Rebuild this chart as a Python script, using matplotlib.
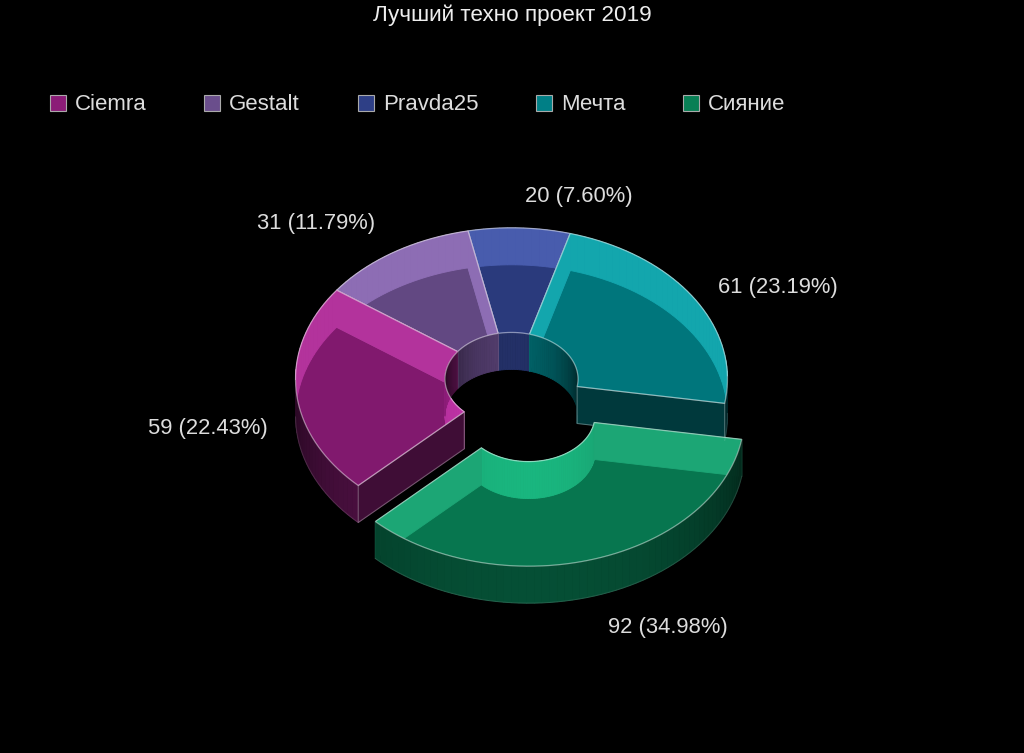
import numpy as np
import matplotlib
matplotlib.use('Agg')
import matplotlib.pyplot as plt
from matplotlib.patches import Polygon, Patch

plt.rcParams['font.family'] = ['Liberation Sans', 'DejaVu Sans']

# ---------------- data ----------------
title = "Лучший техно проект 2019"
categories = ["Ciemra", "Gestalt", "Pravda25", "Мечта", "Сияние"]
values = [59, 31, 20, 61, 92]
colors = ["#8B1C77", "#6A4E8C", "#2E3F86", "#007F86", "#087F55"]
exploded = [False, False, False, False, True]

# ---------------- layout ----------------
W, H = 1024, 753
CX, CY = 511.5, 379.0
RX = 216.0
TILT = 0.70
INNER = 0.308
DEPTH = 37.0
EXPLODE = 56.0
EXPLODE_TILT = 0.675
START = 224.8          # degrees, slices run clockwise from here
label_pos = [(208, 428), (316, 223), (579, 196), (778, 287), (668, 627)]
LABEL_COLOR = "#dddddd"

fig = plt.figure(figsize=(W / 100, H / 100), dpi=100)
fig.patch.set_facecolor("black")
ax = fig.add_axes([0, 0, 1, 1])
ax.set_facecolor("black")
ax.set_xlim(0, W)
ax.set_ylim(H, 0)
ax.axis("off")


def rgb(c):
    c = c.lstrip('#')
    return np.array([int(c[i:i + 2], 16) for i in (0, 2, 4)]) / 255.0


def scale(c, f):
    return tuple(np.clip(np.asarray(c) * f, 0, 1))


def mix_white(c, t):
    return tuple(np.clip(np.asarray(c) * (1 - t) + t, 0, 1))


def proj(r, th, z, off):
    t = np.radians(th)
    x = CX + off[0] + r * np.cos(t)
    y = CY + off[1] - TILT * r * np.sin(t) + z
    return np.column_stack([np.atleast_1d(x), np.atleast_1d(y)])


total = float(sum(values))
cum = np.concatenate([[0], np.cumsum(values)]) / total
slices = []
for i, v in enumerate(values):
    hi = START - cum[i] * 360.0
    lo = START - cum[i + 1] * 360.0
    mid = 0.5 * (hi + lo)
    if exploded[i]:
        off = (EXPLODE * np.cos(np.radians(mid)),
               -EXPLODE_TILT * EXPLODE * np.sin(np.radians(mid)))
    else:
        off = (0.0, 0.0)
    slices.append(dict(i=i, lo=lo, hi=hi, mid=mid, off=off))

# draw farthest slices first
order = sorted(slices, key=lambda s: (exploded[s['i']], -np.sin(np.radians(s['mid']))))

RI = RX * INNER
edge_col = (1, 1, 1, 0.45)

for s in order:
    base = rgb(colors[s['i']])
    lo, hi, off = s['lo'], s['hi'], s['off']
    n = max(3, int((hi - lo) / 2) + 1)
    th = np.linspace(lo, hi, n)
    back_col = mix_white(base, 0.25)
    top_col = scale(base, 1.33)

    back_faces = []
    front_faces = []
    # outer wall segments
    for a, b in zip(th[:-1], th[1:]):
        m = 0.5 * (a + b)
        quad = np.vstack([proj(RX, [a, b], 0, off), proj(RX, [b, a], DEPTH, off)])
        if np.sin(np.radians(m)) > 0:
            back_faces.append((quad, back_col))
        else:
            f = 0.28 + 0.34 * (-np.sin(np.radians(m)))
            front_faces.append((quad, scale(base, f)))
    # inner wall segments
    for a, b in zip(th[:-1], th[1:]):
        m = 0.5 * (a + b)
        quad = np.vstack([proj(RI, [a, b], 0, off), proj(RI, [b, a], DEPTH, off)])
        sm = np.sin(np.radians(m))
        if sm < 0:
            back_faces.append((quad, mix_white(scale(base, 1.0 + 0.6 * (-sm)), 0.2)))
        else:
            f = 0.22 + 0.55 * sm
            front_faces.append((quad, scale(base, f)))
    # end faces
    for ang, visible in ((lo, np.cos(np.radians(lo)) > 0), (hi, np.cos(np.radians(hi)) < 0)):
        quad = np.vstack([proj(np.array([RI, RX]), ang, 0, off),
                          proj(np.array([RX, RI]), ang, DEPTH, off)])
        if visible:
            front_faces.append((quad, scale(base, 0.45), True))
        else:
            back_faces.append((quad, back_col))

    for f in back_faces:
        ax.add_patch(Polygon(f[0], closed=True, facecolor=f[1], edgecolor=f[1], lw=0.6))
    for f in front_faces:
        ax.add_patch(Polygon(f[0], closed=True, facecolor=f[1], edgecolor=f[1], lw=0.6))
        if len(f) == 3:
            ax.add_patch(Polygon(f[0], closed=True, facecolor='none',
                                 edgecolor=(1, 1, 1, 0.3), lw=0.8))
    # silhouette of outer front wall
    front_th = th[np.sin(np.radians(th)) <= 0.02]
    if len(front_th) > 1:
        ax.plot(*proj(RX, front_th, DEPTH, off).T, color=(1, 1, 1, 0.12), lw=0.8)

    # top face
    top = np.vstack([proj(RX, th[::-1], 0, off), proj(RI, th, 0, off)])
    ax.add_patch(Polygon(top, closed=True, facecolor=top_col, alpha=0.7, edgecolor='none'))
    ax.add_patch(Polygon(top, closed=True, facecolor='none', edgecolor=edge_col, lw=0.9))

# labels
for i, v in enumerate(values):
    ax.text(label_pos[i][0], label_pos[i][1], f"{v} ({v / total * 100:.2f}%)",
            ha='center', va='center', fontsize=15.8, color=LABEL_COLOR)

# title
fig.text(512.5 / W, 1 - 15 / H, title, ha='center', va='center', fontsize=16.2, color='#eeeeee')

# legend
handles = [Patch(facecolor=c, edgecolor='#aaaaaa', linewidth=0.8) for c in colors]
fig.legend(handles, categories, loc='center left', bbox_to_anchor=(50 / W, 1 - 105 / H),
           ncol=5, frameon=False, fontsize=16, handlelength=0.72, handleheight=0.72,
           handletextpad=0.4, columnspacing=2.6, borderpad=0, borderaxespad=0,
           labelcolor=LABEL_COLOR)

fig.savefig("out.png", dpi=100, facecolor="black")
